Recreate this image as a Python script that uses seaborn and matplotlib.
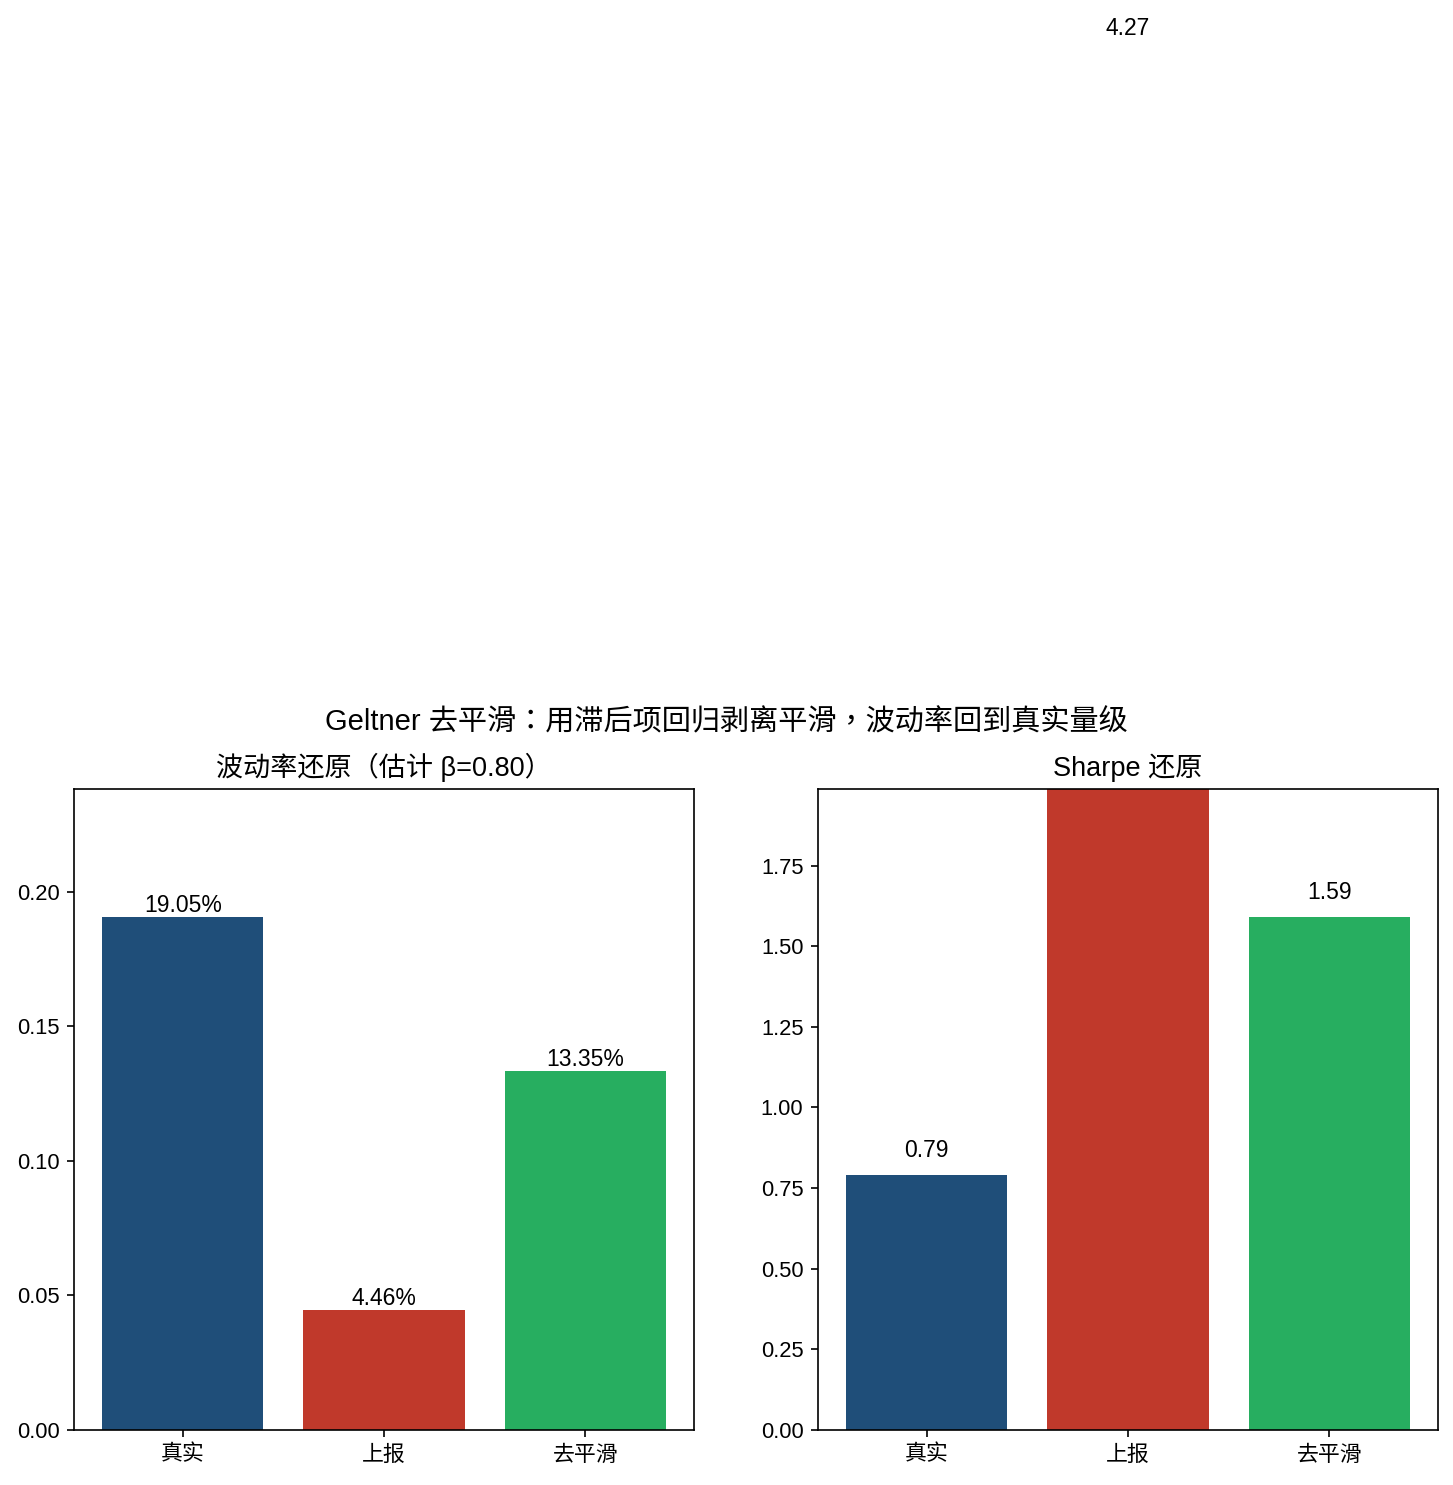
import numpy as np
import pandas as pd
import matplotlib
matplotlib.use("Agg")
import matplotlib.pyplot as plt
import seaborn as sns

plt.rcParams['font.family'] = ['Liberation Sans', 'Noto Sans CJK TC', 'DejaVu Sans']
plt.rcParams['axes.unicode_minus'] = False

# data
labels = ["真实", "上报", "去平滑"]
vol = [0.1905, 0.0446, 0.1335]
sharpe = [0.79, 4.27, 1.59]
beta = 0.80
colors = ["#1f4e79", "#c0392b", "#27ae60"]

fig = plt.figure(figsize=(1453 / 150, 1485 / 150), dpi=150)
ax1 = fig.add_axes([74 / 1453, 55 / 1485, 620 / 1453, 641 / 1485])
ax2 = fig.add_axes([818 / 1453, 55 / 1485, 620 / 1453, 641 / 1485])

df_vol = pd.DataFrame({"k": labels, "v": vol})
df_sh = pd.DataFrame({"k": labels, "v": sharpe})

# left: volatility
sns.barplot(data=df_vol, x="k", y="v", hue="k", palette=colors, saturation=1,
            width=0.8, legend=False, ax=ax1)
for i, v in enumerate(vol):
    ax1.text(i, v, f"{v:.2%}", ha="center", va="bottom", fontsize=11)
ax1.set_ylim(0, max(vol) * 1.25)
ax1.set_title(f"波动率还原（估计 β={beta:.2f}）", fontsize=13)

# right: sharpe
sns.barplot(data=df_sh, x="k", y="v", hue="k", palette=colors, saturation=1,
            width=0.8, legend=False, ax=ax2)
for i, v in enumerate(sharpe):
    ax2.text(i, v + 0.04, f"{v:.2f}", ha="center", va="bottom", fontsize=11)
ax2.set_ylim(0, max(sharpe[0], sharpe[2]) * 1.25)
ax2.set_title("Sharpe 还原", fontsize=13)

for ax in (ax1, ax2):
    ax.set_xlim(-0.54, 2.54)
    ax.set_xlabel("")
    ax.set_ylabel("")
    ax.tick_params(labelsize=10.5)
    for p in ax.patches:
        p.set_edgecolor("none")

fig.suptitle("Geltner 去平滑：用滞后项回归剥离平滑，波动率回到真实量级",
             fontsize=14, y=1 - 722 / 1485, va="center")

fig.savefig("out.png", dpi=150)
